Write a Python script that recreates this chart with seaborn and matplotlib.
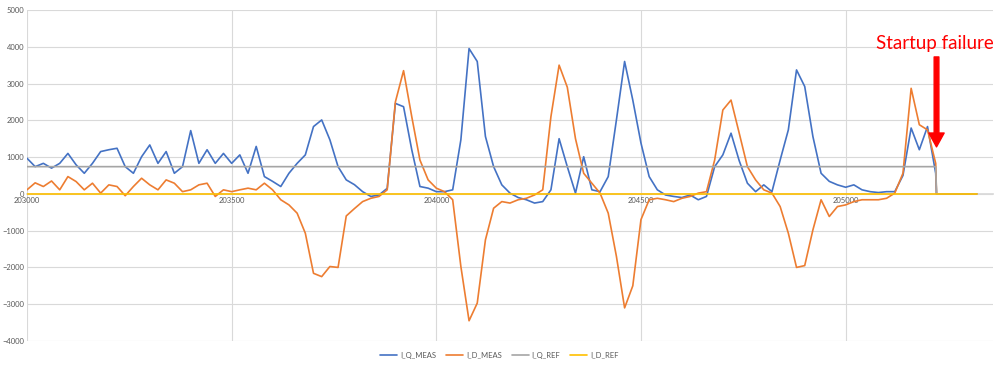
import matplotlib.pyplot as plt
import numpy as np
import pandas as pd
import seaborn as sns

# samples every 20 counts up to the failure, then the dead tail
t_meas = list(np.arange(203000, 205221, 20))
t_tail = [205222, 205320]

i_q_meas = [
    970, 740, 830, 700, 830, 1100, 790, 560, 830, 1150, 1200, 1240, 740, 560, 1010, 1330, 830, 1150, 560, 740, 1720,
    830, 1200, 830, 1100, 830, 1060, 560, 1290, 470, 340, 200, 560, 830, 1060, 1830, 2010, 1470, 740, 380, 250,
    60, -70, -30, 150, 2460, 2370, 1200, 200, 155, 60, 60, 110, 1470, 3950, 3600, 1560, 740, 245, 20, -100,
    -160, -250, -210, 110, 1500, 740, 20, 1010, 110, 60, 470, 2010, 3600, 2550, 1380, 470, 110, -30, -70, -100,
    -30, -160, -70, 740, 1060, 1650, 900, 290, 60, 245, 60, 920, 1740, 3370, 2920, 1560, 560, 340, 245,
    180, 245, 110, 60, 36, 60, 60, 500, 1790, 1200, 1830, 560,
    0, 0,
]
i_d_meas = [
    110, 300, 200, 350, 110, 470, 335, 110, 290, 20, 245, 200, -50, 200, 425, 245, 110, 380, 290, 60, 110,
    245, 290, -70, 110, 60, 110, 155, 110, 290, 110, -160, -300, -525, -1070, -2160, -2250, -1975, -2000, -600, -400,
    -210, -120, -70, 110, 2500, 3350, 2100, 920, 380, 155, 60, -160, -1975, -3450, -2970, -1250, -390, -210, -250, -160,
    -120, -30, 110, 2100, 3500, 2900, 1500, 560, 290, 20, -525, -1700, -3100, -2500, -700, -160, -120, -160, -210, -120,
    -70, 20, 60, 920, 2280, 2550, 1650, 740, 380, 110, 20, -345, -1070, -2000, -1950, -980, -160, -615, -345,
    -300, -210, -160, -160, -160, -120, 20, 560, 2870, 1880, 1740, 830,
    0, 0,
]
i_q_ref = [740] * len(t_meas) + [0, 0]
i_d_ref = [0] * (len(t_meas) + 2)

names = ["I_Q_MEAS", "I_D_MEAS", "I_Q_REF", "I_D_REF"]
colors = ["#4472C4", "#ED7D31", "#A5A5A5", "#FFC000"]

df = pd.DataFrame({
    "t": t_meas + t_tail,
    "I_Q_MEAS": i_q_meas,
    "I_D_MEAS": i_d_meas,
    "I_Q_REF": i_q_ref,
    "I_D_REF": i_d_ref,
})
long = df.melt(id_vars="t", var_name="series", value_name="value")

sns.set_theme(style="white")
plt.rcParams["font.family"] = ["Lato", "DejaVu Sans"]

fig = plt.figure(figsize=(9.99, 3.68), dpi=100)
ax = fig.add_axes([0.027, 0.0734, 0.967, 0.8995])

sns.lineplot(data=long, x="t", y="value", hue="series", hue_order=names,
             palette=colors, linewidth=1.2, estimator=None, sort=False, ax=ax)
for line in ax.get_lines():
    line.set_zorder(3)

ax.set_xlim(203000, 205360)
ax.set_ylim(-4000, 5000)
ax.set_yticks(range(-4000, 5001, 1000))
ax.set_xticks(range(203000, 205001, 500))
ax.grid(True, color="#d9d9d9", linewidth=0.8)
ax.set_axisbelow(True)
for side in ["top", "right", "left"]:
    ax.spines[side].set_visible(False)
ax.spines["bottom"].set_position(("data", 0))
ax.spines["bottom"].set_color("#d9d9d9")
ax.spines["bottom"].set_zorder(0.5)
ax.tick_params(length=0, labelsize=5.5, labelcolor="#595959", pad=2)
ax.set_xlabel("")
ax.set_ylabel("")

handles, labels = ax.get_legend_handles_labels()
ax.get_legend().remove()
fig.legend(handles, labels, loc="center", bbox_to_anchor=(0.5, 0.035), ncol=4,
           frameon=False, fontsize=5.5, handlelength=2.2, handletextpad=0.4,
           columnspacing=1.3, labelcolor="#595959")

ax.annotate("", xy=(205222, 1277), xytext=(205222, 3723),
            arrowprops=dict(facecolor="red", edgecolor="red", width=3.4,
                            headwidth=11, headlength=10, shrink=0))
ax.text(205218, 3940, "Startup failure", color="red", fontsize=13.5,
        ha="center", va="baseline")

fig.savefig("out.png", dpi=100)
